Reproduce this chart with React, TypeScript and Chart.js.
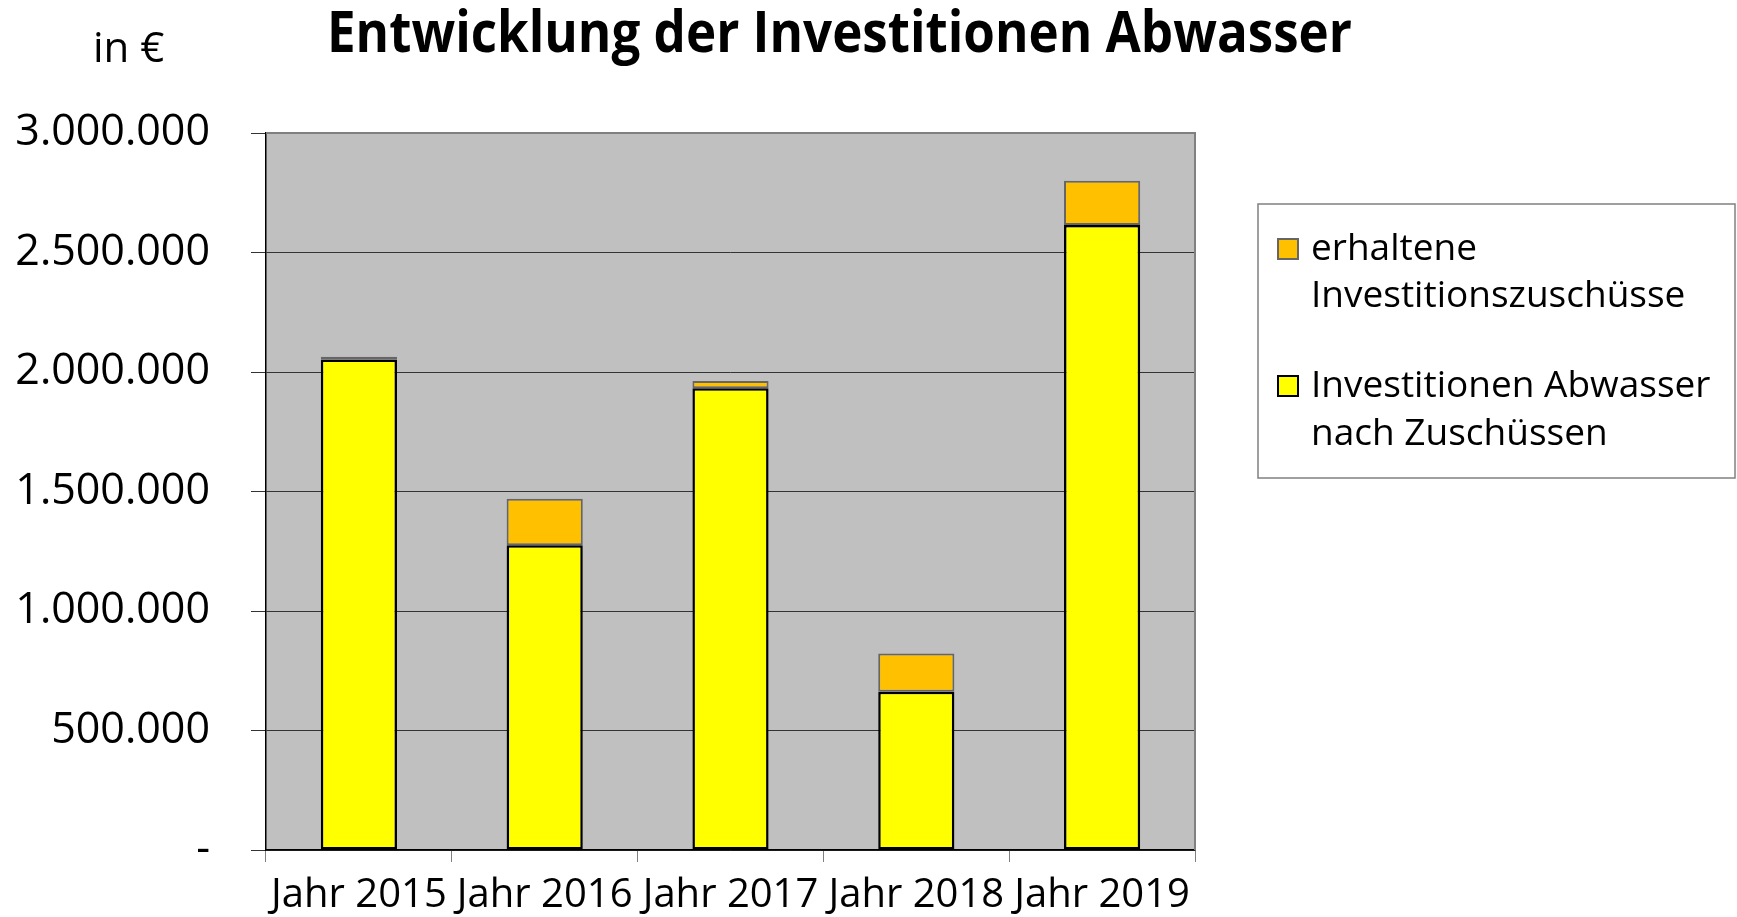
import React, { useEffect, useRef } from "react";
import { Chart, registerables } from "chart.js";

Chart.register(...registerables);

const categories = ["Jahr 2015", "Jahr 2016", "Jahr 2017", "Jahr 2018", "Jahr 2019"];
const nachZuschuessen = [2052000, 1275000, 1932000, 662000, 2615000];
const zuschuesse = [12000, 195000, 30000, 160000, 185000];
const yTicks = [0, 500000, 1000000, 1500000, 2000000, 2500000, 3000000];

const titleText = "Entwicklung der Investitionen Abwasser";
const unitText = "in €";
const legendItems = [
  { lines: ["erhaltene", "Investitionszuschüsse"], fill: "#FFC000", stroke: "#666666" },
  { lines: ["Investitionen Abwasser", "nach Zuschüssen"], fill: "#FFFF00", stroke: "#000000" },
];

const FONT = '"Open Sans", "Noto Sans", sans-serif';

function fmt(v: number): string {
  if (v === 0) return "-";
  return String(Math.round(v)).replace(/\B(?=(\d{3})+(?!\d))/g, ".");
}

const decorPlugin = {
  id: "decor",
  beforeDraw(chart: any) {
    const { ctx, chartArea } = chart;
    ctx.save();
    ctx.fillStyle = "#C0C0C0";
    ctx.fillRect(chartArea.left, chartArea.top, chartArea.right - chartArea.left, chartArea.bottom - chartArea.top);
    ctx.restore();
  },
  afterDraw(chart: any) {
    const { ctx, chartArea } = chart;
    ctx.save();
    ctx.strokeStyle = "#808080";
    ctx.lineWidth = 2;
    ctx.beginPath();
    ctx.moveTo(chartArea.left, chartArea.top);
    ctx.lineTo(chartArea.right, chartArea.top);
    ctx.lineTo(chartArea.right, chartArea.bottom);
    ctx.stroke();

    ctx.fillStyle = "#000";
    ctx.font = `bold 57px ${FONT}`;
    ctx.textBaseline = "alphabetic";
    ctx.textAlign = "left";
    const w = ctx.measureText(titleText).width;
    const sx = 1025 / w;
    ctx.save();
    ctx.translate(327, 52);
    ctx.scale(sx, 1);
    ctx.fillText(titleText, 0, 0);
    ctx.restore();

    ctx.font = `42px ${FONT}`;
    ctx.fillText(unitText, 93, 62);

    ctx.strokeStyle = "#808080";
    ctx.lineWidth = 1.5;
    ctx.strokeRect(1258, 204, 477, 274);
    ctx.font = `37px ${FONT}`;
    const baselines = [[260, 307], [397, 445]];
    legendItems.forEach((it, i) => {
      const b = baselines[i];
      ctx.fillStyle = it.fill;
      ctx.fillRect(1278, b[0] - 21, 20, 20);
      ctx.strokeStyle = it.stroke;
      ctx.lineWidth = 2;
      ctx.strokeRect(1278, b[0] - 21, 20, 20);
      ctx.fillStyle = "#000";
      it.lines.forEach((ln, j) => ctx.fillText(ln, 1311, b[j]));
    });
    ctx.restore();
  },
};

export default function App() {
  const ref = useRef<HTMLCanvasElement>(null);
  useEffect(() => {
    const chart = new Chart(ref.current!, {
      type: "bar",
      data: {
        labels: categories,
        datasets: [
          {
            label: "Investitionen Abwasser nach Zuschüssen",
            data: nachZuschuessen,
            backgroundColor: "#FFFF00",
            borderColor: "#000000",
            borderWidth: 2.5,
            borderSkipped: false,
            barPercentage: 0.41,
            categoryPercentage: 1,
          },
          {
            label: "erhaltene Investitionszuschüsse",
            data: zuschuesse,
            backgroundColor: "#FFC000",
            borderColor: "#666666",
            borderWidth: 2,
            borderSkipped: false,
            barPercentage: 0.41,
            categoryPercentage: 1,
          },
        ],
      },
      options: {
        animation: false,
        responsive: false,
        maintainAspectRatio: false,
        layout: { padding: { left: 0, top: 133, right: 542, bottom: 0 } },
        plugins: { legend: { display: false }, title: { display: false }, tooltip: { enabled: false } },
        scales: {
          x: {
            stacked: true,
            afterFit: (s: any) => { s.height = 67; },
            grid: { display: true, drawOnChartArea: false, drawTicks: true, tickLength: 12, color: "#808080", offset: true },
            border: { display: true, color: "#000", width: 1.5 },
            ticks: { color: "#000", font: { family: FONT, size: 40 }, padding: 10, maxRotation: 0, autoSkip: false },
          },
          y: {
            stacked: true,
            min: 0,
            max: 3000000,
            afterFit: (s: any) => { s.width = 266; },
            afterBuildTicks: (s: any) => { s.ticks = yTicks.map((v) => ({ value: v })); },
            grid: { display: true, drawOnChartArea: true, drawTicks: true, tickLength: 15, color: "#333333", lineWidth: 1 },
            border: { display: true, color: "#000", width: 1.5 },
            ticks: { color: "#000", font: { family: FONT, size: 43 }, padding: 41, callback: (v: any) => fmt(Number(v)) },
          },
        },
      },
      plugins: [decorPlugin],
    });
    return () => chart.destroy();
  }, []);
  return (
    <div style={{ position: "fixed", left: 0, top: 0, width: 1737, height: 917, background: "#fff" }}>
      <canvas ref={ref} width={1737} height={917} style={{ width: 1737, height: 917, display: "block" }} />
    </div>
  );
}
